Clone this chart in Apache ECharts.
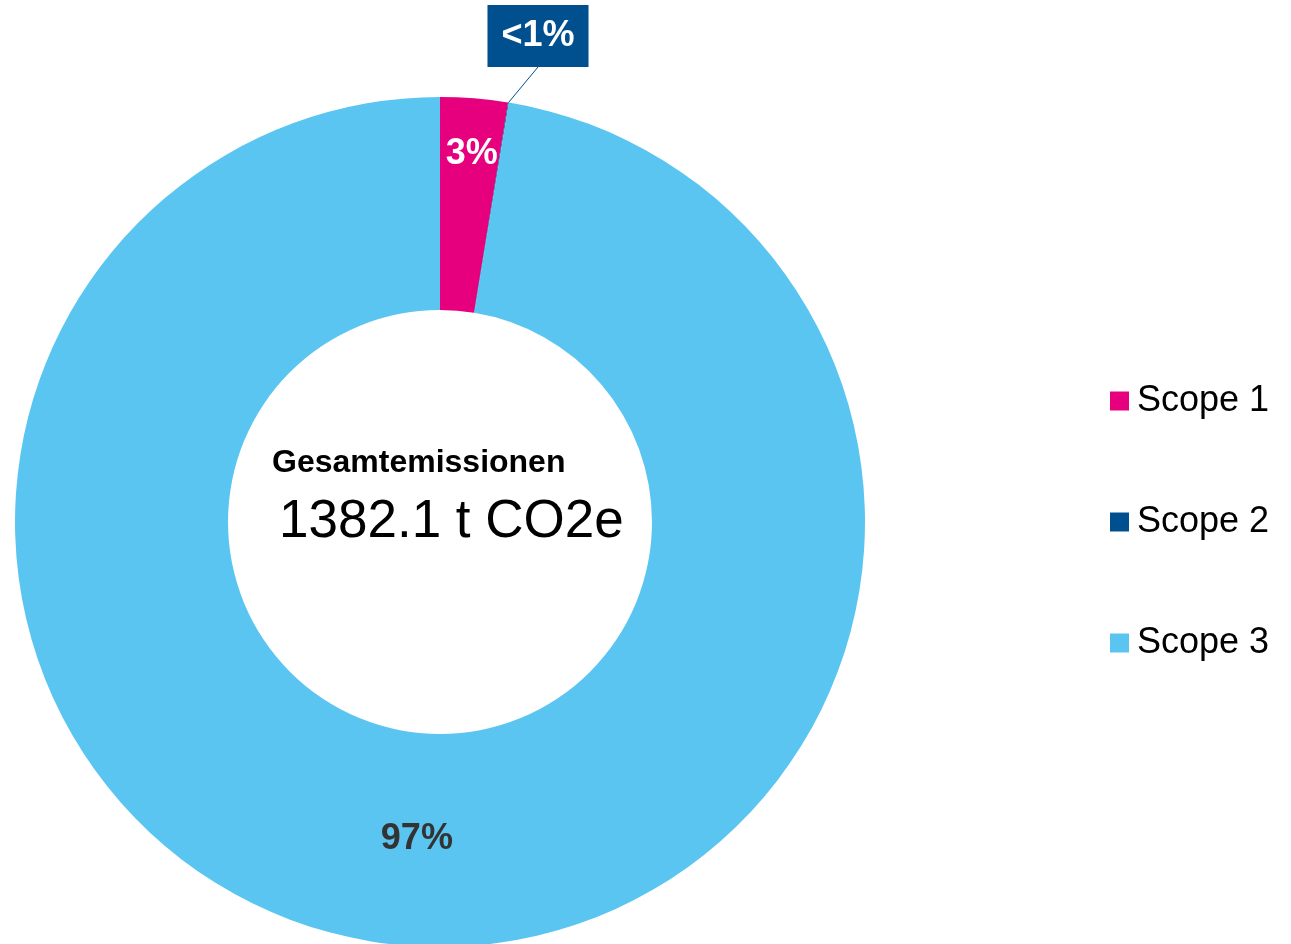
<!DOCTYPE html>
<html>
<head>
<meta charset="utf-8">
<title>Gesamtemissionen</title>
<script src="https://cdn.jsdelivr.net/npm/echarts@6/dist/echarts.min.js"></script>
<style>
  html, body { margin: 0; padding: 0; background: #fff; }
  #chart { width: 1291px; height: 944px; }
</style>
</head>
<body>
<div id="chart"></div>
<script>
// scope names and emissions in t CO2e
var scopeNames = ['Scope 1', 'Scope 2', 'Scope 3'];
var scopeValues = [35.4, 0.4, 1346.3];
var scopeColors = ['#E6007E', '#00508F', '#5BC5F2'];
var centerTitle = 'Gesamtemissionen';
var totalLabel = '1382.1 t CO2e';

var fontFamily = "'Liberation Sans', Arial, sans-serif";

var myChart = echarts.init(document.getElementById('chart'));

var pieData = [];
for (let i = 0; i < scopeNames.length; i++) {
	pieData.push({
		name: scopeNames[i],
		value: scopeValues[i],
		itemStyle: { color: scopeColors[i] }
	});
}
// scope 1: white label near the outer edge
pieData[0].label = { color: '#fff' };
// scope 2: too small for an inside label, boxed label above
pieData[1].label = {
	position: 'outside',
	color: '#fff',
	backgroundColor: '#00508F',
	padding: [11, 14],
	lineHeight: 40
};
pieData[1].labelLine = {
	show: true,
	length: 20,
	length2: 0,
	lineStyle: { color: '#00508F', width: 1 }
};
// scope 3
pieData[2].label = { color: '#333' };

var option = {
	backgroundColor: '#fff',
	animation: false,
	legend: {
		orient: 'vertical',
		left: 1105,
		top: 376,
		icon: 'rect',
		itemWidth: 19,
		itemHeight: 19,
		itemGap: 81,
		selectedMode: false,
		data: scopeNames,
		textStyle: {
			color: '#000',
			fontSize: 36,
			lineHeight: 40,
			padding: [0, 0, 0, 3],
			fontFamily: fontFamily
		}
	},
	graphic: [
		{
			type: 'text',
			left: 272,
			top: 447,
			style: {
				text: centerTitle,
				fill: '#000',
				font: 'bold 32px ' + fontFamily
			}
		},
		{
			type: 'text',
			left: 279,
			top: 496,
			style: {
				text: totalLabel,
				fill: '#000',
				font: '53px ' + fontFamily
			}
		}
	],
	series: [{
		type: 'pie',
		center: [440, 522],
		radius: [212, 425],
		startAngle: 90,
		clockwise: true,
		avoidLabelOverlap: false,
		emphasis: { disabled: true },
		label: {
			show: true,
			position: 'inside',
			fontFamily: fontFamily,
			fontSize: 36,
			fontWeight: 'bold',
			formatter: function (p) {
				return p.percent < 1 ? '<1%' : Math.round(p.percent) + '%';
			}
		},
		labelLine: { show: false },
		labelLayout: function (params) {
			if (params.dataIndex === 0) {
				return { dx: 6, dy: -47 };
			}
			if (params.dataIndex === 1) {
				return { x: 538, y: 36, align: 'center', verticalAlign: 'middle' };
			}
			return { dx: 3, dy: -3 };
		},
		data: pieData
	}]
};

myChart.setOption(option);
</script>
</body>
</html>
